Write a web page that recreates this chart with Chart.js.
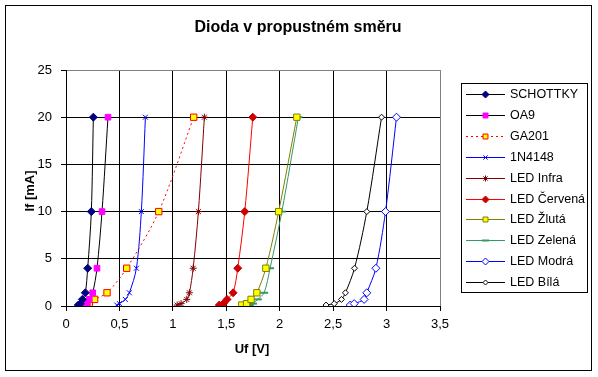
<!DOCTYPE html>
<html>
<head>
<meta charset="utf-8">
<script src="https://cdn.jsdelivr.net/npm/chart.js@4/dist/chart.umd.min.js"></script>
<style>
    html, body { margin: 0; padding: 0; background: #fff; }
    #wrap { width: 598px; height: 377px; position: relative; }
</style>
</head>
<body>
<div id="wrap"><canvas id="diodeChart" width="598" height="377"></canvas></div>
<script>
// Forward current steps [mA]
const currents = [0.1, 0.25, 0.7, 1.4, 4, 10, 20];

// Forward voltage per diode [V], one value per current step
const schottky = [0.115, 0.135, 0.153, 0.181, 0.203, 0.237, 0.256];
const oa9      = [0.17, 0.2, 0.218, 0.25, 0.29, 0.337, 0.393];
const ga201    = [0.169, 0.219, 0.268, 0.384, 0.568, 0.868, 1.195];
const n4148    = [0.475, 0.5, 0.555, 0.593, 0.659, 0.705, 0.743];
const ledInfra = [1.04, 1.077, 1.13, 1.155, 1.19, 1.239, 1.295];
const ledRed   = [1.435, 1.473, 1.507, 1.564, 1.607, 1.673, 1.748];
const ledYellow = [1.645, 1.69, 1.732, 1.786, 1.87, 1.99, 2.16];
const ledGreen = [1.72, 1.75, 1.795, 1.854, 1.91, 2.02, 2.175];
const ledBlue  = [2.66, 2.697, 2.79, 2.815, 2.9, 2.99, 3.093];
const ledWhite = [2.434, 2.51, 2.578, 2.615, 2.7, 2.815, 2.953];

const xTicks = [0, 0.5, 1, 1.5, 2, 2.5, 3, 3.5];
const yTicks = [0, 5, 10, 15, 20, 25];

const FONT = "'Liberation Sans', Arial, sans-serif";

function pts(volts) {
    return volts.map((v, i) => ({ x: v, y: currents[i] }));
}

// label, values, line colour, dash, marker style, marker fill, marker border, radius
const series = [
    ['SCHOTTKY', schottky, '#000000', [], 'rectRot', '#000080', '#000080', 4],
    ['OA9', oa9, '#000000', [], 'rect', '#FF00FF', '#FF00FF', 4],
    ['GA201', ga201, '#FF0000', [2, 3], 'rect', '#FFFF00', '#FF0000', 4.5],
    ['1N4148', n4148, '#0000FF', [], 'crossRot', '#0000FF', '#0000FF', 3.5],
    ['LED Infra', ledInfra, '#800000', [], 'star', '#800000', '#800000', 3.5],
    ['LED Červená', ledRed, '#FF0000', [], 'rectRot', '#CC0000', '#CC0000', 4],
    ['LED Žlutá', ledYellow, '#808000', [], 'rect', '#FFFF00', '#808000', 4.5],
    ['LED Zelená', ledGreen, '#339966', [], 'line', '#339966', '#339966', 4],
    ['LED Modrá', ledBlue, '#0000FF', [], 'rectRot', '#FFFFFF', '#0000FF', 4],
    ['LED Bílá', ledWhite, '#000000', [], 'rectRot', '#FFFFFF', '#000000', 3]
];

const datasets = series.map(s => ({
    label: s[0],
    data: pts(s[1]),
    showLine: true,
    borderColor: s[2],
    borderWidth: 1,
    borderDash: s[3],
    tension: 0.3,
    pointStyle: s[4],
    pointBackgroundColor: s[5],
    pointBorderColor: s[6],
    pointBorderWidth: s[4] === 'line' ? 2 : 1,
    pointRadius: s[7],
    pointHoverRadius: s[7]
}));

// Title, axis titles, legend box and outer frame
const decorations = {
    id: 'decorations',
    afterDraw(chart) {
        const ctx = chart.ctx;
        ctx.save();

        // outer frame
        ctx.strokeStyle = '#000';
        ctx.lineWidth = 1;
        ctx.strokeRect(5.5, 5.5, 586, 365);

        ctx.fillStyle = '#000';
        ctx.textAlign = 'center';
        ctx.textBaseline = 'middle';
        ctx.font = 'bold 16px ' + FONT;
        ctx.fillText('Dioda v propustném směru', 298, 28);

        ctx.font = 'bold 13px ' + FONT;
        ctx.fillText('Uf [V]', 252, 349);
        ctx.save();
        ctx.translate(30, 191);
        ctx.rotate(-Math.PI / 2);
        ctx.fillText('If [mA]', 0, 0);
        ctx.restore();

        // legend
        ctx.strokeRect(461.5, 83.5, 126, 209);
        ctx.font = '12.5px ' + FONT;
        ctx.textAlign = 'left';
        series.forEach((s, i) => {
            const y = Math.round(94 + i * 20.9) + 0.5;
            ctx.strokeStyle = s[2];
            ctx.setLineDash(s[3]);
            ctx.beginPath();
            ctx.moveTo(466, y);
            ctx.lineTo(505, y);
            ctx.stroke();
            ctx.setLineDash([]);
            ctx.fillStyle = s[5];
            ctx.strokeStyle = s[6];
            ctx.lineWidth = s[4] === 'line' ? 2 : 1;
            Chart.helpers.drawPoint(ctx, {
                pointStyle: s[4],
                radius: Math.min(s[7], 4) - 0.5,
                rotation: 0,
                borderWidth: ctx.lineWidth
            }, 485.5, y);
            ctx.lineWidth = 1;
            ctx.fillStyle = '#000';
            ctx.fillText(s[0], 510, y);
        });

        ctx.restore();
    }
};

const gridColor = c => (c.tick && c.tick.value === (c.scale.axis === 'x' ? 3.5 : 25)) ? '#808080' : '#000000';

const ctx = document.getElementById('diodeChart').getContext('2d');
new Chart(ctx, {
    type: 'scatter',
    data: { datasets },
    options: {
        responsive: false,
        animation: false,
        events: [],
        layout: {
            padding: { left: 26, top: 70, right: 158, bottom: 41 }
        },
        plugins: {
            legend: { display: false },
            title: { display: false },
            tooltip: { enabled: false }
        },
        scales: {
            x: {
                type: 'linear',
                min: 0,
                max: 3.5,
                afterFit: s => { s.height = 30; },
                afterBuildTicks: s => { s.ticks = xTicks.map(v => ({ value: v })); },
                ticks: {
                    color: '#000',
                    font: { family: FONT, size: 13 },
                    padding: 6,
                    maxRotation: 0,
                    callback: v => String(v).replace('.', ',')
                },
                grid: { color: gridColor, tickColor: '#000', tickLength: 5 },
                border: { color: '#000' }
            },
            y: {
                type: 'linear',
                min: 0,
                max: 25,
                afterFit: s => { s.width = 40; },
                afterBuildTicks: s => { s.ticks = yTicks.map(v => ({ value: v })); },
                ticks: {
                    color: '#000',
                    font: { family: FONT, size: 13 },
                    padding: 9
                },
                grid: { color: gridColor, tickColor: '#000', tickLength: 5 },
                border: { color: '#000' }
            }
        }
    },
    plugins: [decorations]
});
</script>
</body>
</html>
